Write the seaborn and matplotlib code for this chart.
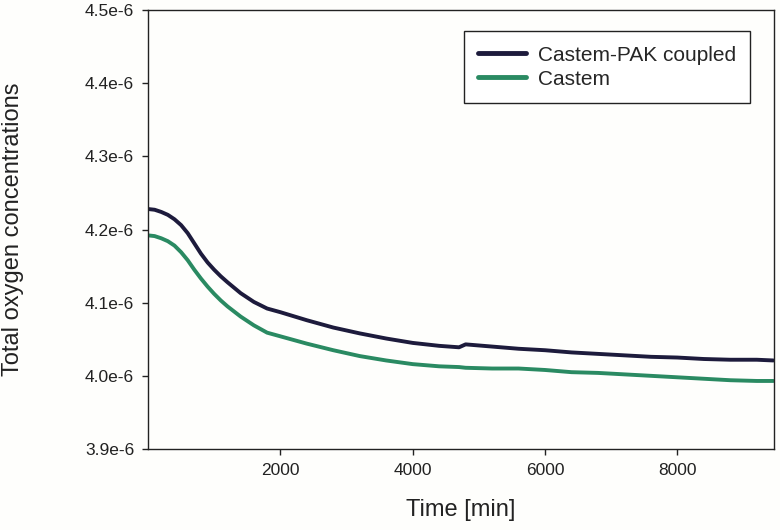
import pandas as pd
import matplotlib
matplotlib.use("Agg")
import matplotlib.pyplot as plt
import seaborn as sns

# data (concentration in 1e-6 units)
time_min = [0, 100, 200, 300, 400, 500, 600, 700, 800, 900, 1000, 1100, 1200, 1400,
            1600, 1800, 2000, 2400, 2800, 3200, 3600, 4000, 4400, 4700, 4800, 5200,
            5600, 6000, 6400, 6800, 7200, 7600, 8000, 8400, 8800, 9200, 9450]
pak_coupled = [4.228, 4.227, 4.224, 4.220, 4.214, 4.206, 4.195, 4.181, 4.167, 4.155,
               4.145, 4.136, 4.128, 4.113, 4.101, 4.092, 4.087, 4.076, 4.066, 4.058,
               4.051, 4.045, 4.041, 4.039, 4.043, 4.040, 4.037, 4.035, 4.032, 4.030,
               4.028, 4.026, 4.025, 4.023, 4.022, 4.022, 4.021]
castem = [4.192, 4.191, 4.188, 4.184, 4.178, 4.169, 4.158, 4.145, 4.133, 4.122,
          4.112, 4.103, 4.095, 4.081, 4.069, 4.059, 4.054, 4.044, 4.035, 4.027,
          4.021, 4.016, 4.013, 4.012, 4.011, 4.010, 4.010, 4.008, 4.005, 4.004,
          4.002, 4.000, 3.998, 3.996, 3.994, 3.993, 3.993]
series_names = ["Castem-PAK coupled", "Castem"]
colors = ["#1d1b3c", "#2a8a62"]

ytick_vals = [3.9e-6, 4.0e-6, 4.1e-6, 4.2e-6, 4.3e-6, 4.4e-6, 4.5e-6]
ytick_labels = ["3.9e-6", "4.0e-6", "4.1e-6", "4.2e-6", "4.3e-6", "4.4e-6", "4.5e-6"]
xtick_vals = [2000, 4000, 6000, 8000]

df = pd.concat([
    pd.DataFrame({"time": time_min, "conc": [v * 1e-6 for v in pak_coupled], "serie": series_names[0]}),
    pd.DataFrame({"time": time_min, "conc": [v * 1e-6 for v in castem], "serie": series_names[1]}),
])

# estilo
sns.set_style("ticks")
plt.rcParams["font.family"] = ["Liberation Sans", "DejaVu Sans"]

fig = plt.figure(figsize=(7.8, 5.3), dpi=100, facecolor="#fefefc")
ax = fig.add_axes([148 / 780, 1 - 449 / 530, 626 / 780, 439 / 530])
ax.set_facecolor("#fefefc")

sns.lineplot(data=df, x="time", y="conc", hue="serie", hue_order=series_names,
             palette=dict(zip(series_names, colors)), linewidth=2.8, ax=ax)

ax.set_xlim(0, 9460)
ax.set_ylim(3.9e-6, 4.5e-6)
ax.set_xticks(xtick_vals)
ax.set_xticklabels([str(v) for v in xtick_vals])
ax.set_yticks(ytick_vals)
ax.set_yticklabels(ytick_labels)
ax.tick_params(axis="both", direction="out", length=4, width=1, color="#222222",
               labelsize=12.5, pad=6, labelcolor="#222222")

for s in ax.spines.values():
    s.set_visible(True)
    s.set_color("#222222")
    s.set_linewidth(1.0)

ax.set_xlabel("Time [min]", fontsize=17, color="#222222")
ax.set_ylabel("Total oxygen concentrations", fontsize=17, color="#222222")
ax.xaxis.set_label_coords(0.5, -0.115)
ax.yaxis.set_label_coords(-0.198, 0.5)

leg = ax.legend(loc="upper right", bbox_to_anchor=(0.962, 0.952), borderaxespad=0,
                fontsize=15, frameon=True, fancybox=False, framealpha=1,
                edgecolor="#222222", handlelength=2.3, handletextpad=0.55,
                labelspacing=0.24, borderpad=0.7)
leg.get_frame().set_linewidth(1.0)
for line in leg.get_lines():
    line.set_linewidth(3.5)

fig.savefig("out.png", dpi=100, facecolor=fig.get_facecolor())
